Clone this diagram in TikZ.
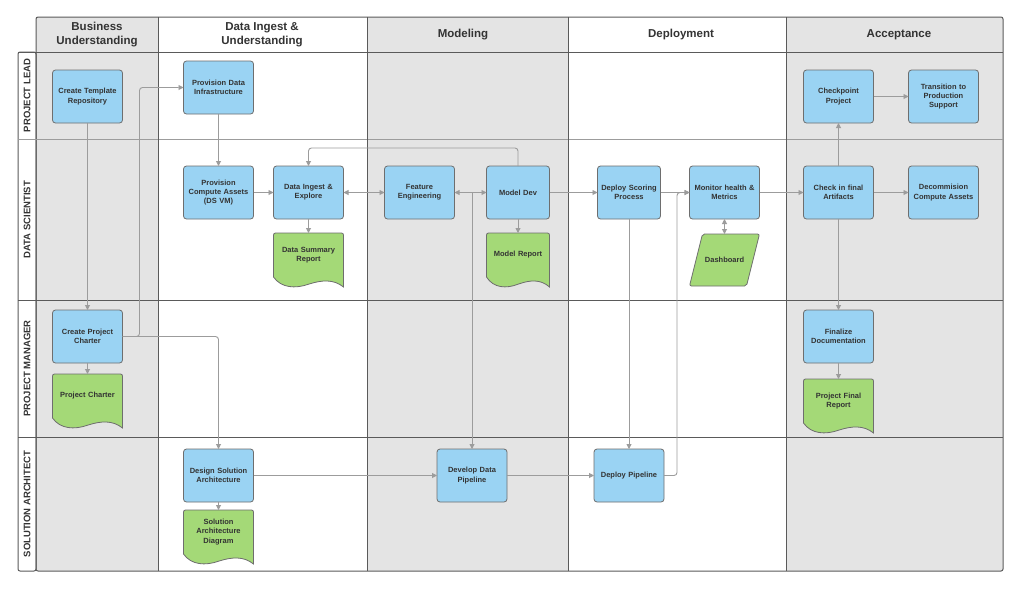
\documentclass[tikz,border=0pt]{standalone}
\usepackage{fontspec}
\setmainfont{Liberation Sans}
\usetikzlibrary{positioning,arrows.meta,backgrounds}
\pgfdeclarelayer{docs}
\pgfsetlayers{background,docs,main}

\definecolor{lanegray}{HTML}{E4E4E4}
\definecolor{taskblue}{HTML}{9AD3F3}
\definecolor{docgreen}{HTML}{A4D977}
\definecolor{edgegray}{HTML}{6E6E6E}
\definecolor{flowgray}{HTML}{9C9C9C}
\definecolor{inkgray}{HTML}{333333}
\definecolor{laneink}{HTML}{5A5A5A}

\tikzset{
    task/.style={draw=edgegray, fill=taskblue, rounded corners=3pt, line width=0.8pt,
        minimum width=70pt, minimum height=53pt, text width=66pt, inner sep=0pt, outer sep=0pt,
        align=center, text=inkgray, font=\bfseries\fontsize{7.5}{9.3}\selectfont},
    narrow/.style={minimum width=63pt, text width=60pt},
    doc/.style={minimum width=70pt, minimum height=44pt, text width=66pt, inner sep=0pt, outer sep=0pt,
        align=center, text=inkgray, font=\bfseries\fontsize{7.5}{9.3}\selectfont},
    para/.style={minimum width=70pt, minimum height=52pt, inner sep=0pt, outer sep=0pt,
        align=center, text=inkgray, font=\bfseries\fontsize{7.5}{9.3}\selectfont},
    flow/.style={draw=flowgray, line width=0.9pt, rounded corners=3pt,
        -{Triangle[length=5pt,width=5pt]}},
    twoway/.style={flow, {Triangle[length=5pt,width=5pt]}-{Triangle[length=5pt,width=5pt]}},
    laneline/.style={draw=laneink, line width=1pt},
    phase/.style={font=\bfseries\fontsize{11.5}{14}\selectfont, align=center, text=inkgray},
    role/.style={rotate=90, font=\bfseries\fontsize{9.5}{11}\selectfont, text=inkgray},
}

% document shape behind a doc node: #1 node, #2 width
\newcommand\docoutline[2]{%
    \begin{pgfonlayer}{docs}
        \begin{scope}[shift={(#1.north west)}]
            \draw[draw=edgegray, fill=docgreen, line width=0.8pt]
                (0,44) [rounded corners=2pt] -- (0,0) -- (#2,0) [sharp corners] -- (#2,54)
                .. controls ({0.86*#2},46) and ({0.69*#2},47) .. ({0.51*#2},51)
                .. controls ({0.31*#2},56) and ({0.11*#2},55) .. (0,44) -- cycle;
        \end{scope}
    \end{pgfonlayer}}

% slanted data shape behind a para node
\newcommand\paraoutline[1]{%
    \begin{pgfonlayer}{docs}
        \begin{scope}[shift={(#1.north west)}]
            \draw[draw=edgegray, fill=docgreen, line width=0.8pt, rounded corners=2pt]
                (13,0) -- (70,0) -- (57,52) -- (0,52) -- cycle;
        \end{scope}
    \end{pgfonlayer}}

\begin{document}
\begin{tikzpicture}[x=1pt, y=-1pt]
    \useasboundingbox (0,0) rectangle (1024,590);

    \begin{pgfonlayer}{background}
        \fill[white] (0,0) rectangle (1024,590);
        \fill[lanegray] (36,17) rectangle (158,571);
        \fill[lanegray] (367,17) rectangle (568,571);
        \fill[lanegray] (786,17) rectangle (1003,571);
        \draw[laneline, rounded corners=2pt] (36,17) rectangle (1003,571);
        \draw[laneline, rounded corners=2pt] (18,52) rectangle (36,571);
        \draw[laneline] (18,52) -- (1003,52);
        \draw[laneline, draw=flowgray] (18,139) -- (1003,139);
        \draw[laneline] (18,300) -- (1003,300);
        \draw[laneline] (18,437) -- (1003,437);
        \foreach \x in {158,367,568,786}
            \draw[laneline] (\x,17) -- (\x,571);
    \end{pgfonlayer}

    \node[phase] (hbu) at (97,34.5) {Business\\Understanding};
    \node[phase] (hdi) at (262,34.5) {Data Ingest \&\\Understanding};
    \node[phase] (hmo) at (463,34.5) {Modeling};
    \node[phase] (hde) at (681,34.5) {Deployment};
    \node[phase] (hac) at (899,34.5) {Acceptance};

    \node[role] (rpl) at (27,95.5) {PROJECT LEAD};
    \node[role] (rds) at (27,219.5) {DATA SCIENTIST};
    \node[role] (rpm) at (27,368.5) {PROJECT MANAGER};
    \node[role] (rsa) at (27,504) {SOLUTION ARCHITECT};

    \node[task] (tmpl) at (87.5,96.5) {Create Template\\Repository};
    \node[task] (pdi) at (218.5,87.5) {Provision Data\\Infrastructure};

    \node[task] (pca) at (218.5,192.5) {Provision\\Compute Assets\\(DS VM)};
    \node[task, right=20pt of pca] (die) {Data Ingest \&\\Explore};
    \node[task, right=41pt of die] (fe) {Feature\\Engineering};
    \node[task, narrow, right=32pt of fe] (mdev) {Model Dev};
    \node[task, narrow, right=48pt of mdev] (dsp) {Deploy Scoring\\Process};
    \node[task, right=29pt of dsp] (mon) {Monitor health \&\\Metrics};
    \node[task, right=44pt of mon] (cfa) {Check in final\\Artifacts};
    \node[task, right=35pt of cfa] (dca) {Decommision\\Compute Assets};
    \node[task, above=43pt of cfa] (cp) {Checkpoint\\Project};
    \node[task, right=35pt of cp] (tps) {Transition to\\Production\\Support};

    \node[doc, below=14pt of die] (dsr) {Data Summary\\Report};
    \node[doc, narrow, below=14pt of mdev] (mrep) {Model Report};
    \node[para, below=15pt of mon] (dash) {Dashboard};

    \node[task] (charter) at (87.5,336.5) {Create Project\\Charter};
    \node[doc, below=11pt of charter] (pchart) {Project Charter};
    \node[task] (fdoc) at (cfa |- charter) {Finalize\\Documentation};
    \node[doc, below=16pt of fdoc] (frep) {Project Final\\Report};

    \node[task] (dsa) at (218.5,475.5) {Design Solution\\Architecture};
    \node[doc, below=8pt of dsa] (sad) {Solution\\Architecture\\Diagram};
    \node[task] (ddp) at (472,475.5) {Develop Data\\Pipeline};
    \node[task] (dpl) at (dsp |- ddp) {Deploy Pipeline};

    \docoutline{dsr}{70}
    \docoutline{mrep}{63}
    \docoutline{pchart}{70}
    \docoutline{frep}{70}
    \docoutline{sad}{70}
    \paraoutline{dash}

    \draw[flow] (tmpl) -- (charter);
    \draw[flow] (charter.east) -- ++(17,0) |- (pdi.west);
    \draw[flow] (charter.east) -| (dsa.north);
    \draw[flow] (charter) -- (pchart);
    \draw[flow] (pdi) -- (pca);
    \draw[flow] (pca) -- (die);
    \draw[twoway] (die) -- (fe);
    \draw[flow] (die) -- (dsr);
    \draw[flow] (mdev.north) -- ++(0,-18) -| (die.north);
    \draw[twoway] (fe) -- (mdev);
    \draw[flow] (ddp.north |- fe.east) -- (ddp.north);
    \draw[flow] (mdev) -- (mrep);
    \draw[flow] (mdev) -- (dsp);
    \draw[flow] (dsp) -- (dpl);
    \draw[flow] (dsp) -- (mon);
    \draw[flow] (dpl.east) -- ++(13,0) |- (mon.west);
    \draw[twoway] (mon) -- (dash);
    \draw[flow] (mon) -- (cfa);
    \draw[flow] (cfa) -- (dca);
    \draw[flow] (cfa) -- (cp);
    \draw[flow] (cp) -- (tps);
    \draw[flow] (cfa) -- (fdoc);
    \draw[flow] (fdoc) -- (frep);
    \draw[flow] (dsa) -- (sad);
    \draw[flow] (dsa) -- (ddp);
    \draw[flow] (ddp) -- (dpl);
\end{tikzpicture}
\end{document}
